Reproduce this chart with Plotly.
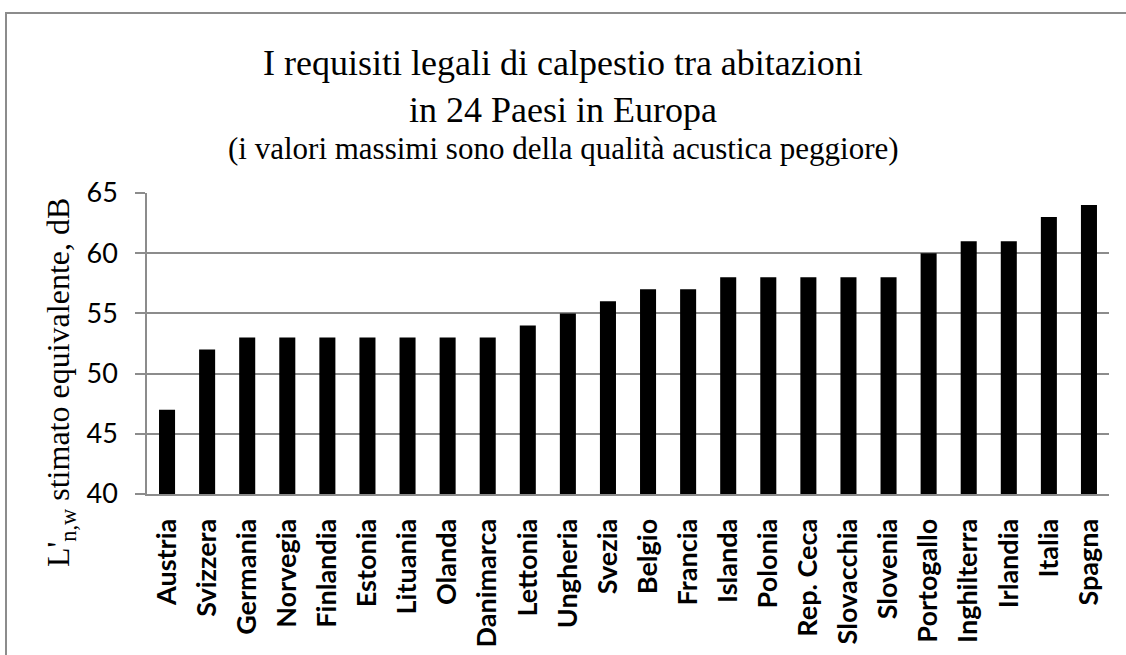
import plotly.graph_objects as go

countries = ["Austria", "Svizzera", "Germania", "Norvegia", "Finlandia", "Estonia",
             "Lituania", "Olanda", "Danimarca", "Lettonia", "Ungheria", "Svezia",
             "Belgio", "Francia", "Islanda", "Polonia", "Rep. Ceca", "Slovacchia",
             "Slovenia", "Portogallo", "Inghilterra", "Irlandia", "Italia", "Spagna"]
values = [47, 52, 53, 53, 53, 53, 53, 53, 53, 54, 55, 56, 57, 57, 58, 58, 58, 58, 58,
          60, 61, 61, 63, 64]
y_ticks = [40, 45, 50, 55, 60, 65]

title_lines = ["I requisiti legali di calpestio tra abitazioni",
               "in 24 Paesi in Europa",
               "(i valori massimi sono della qualità acustica peggiore)"]
y_title = "L'<sub>n,w</sub> stimato equivalente, dB"

serif = "Liberation Serif"
sans = "Lato"

fig = go.Figure()
fig.add_trace(go.Bar(x=countries, y=values, marker=dict(color="black", line=dict(width=0)),
                     width=0.4))

L, R, T, B = 147, 17, 193, 161
W, H = 1126, 655
pw, ph = W - L - R, H - T - B

def px_x(x):
    return (x - L) / pw

def px_y(y):
    return 1 + (T - y) / ph

fig.update_layout(
    width=W, height=H,
    margin=dict(l=L, r=R, t=T, b=B),
    paper_bgcolor="white", plot_bgcolor="white",
    showlegend=False,
    xaxis=dict(tickangle=-90, tickfont=dict(family=sans, size=27, color="black", weight="bold"),
               showline=True, linecolor="#8c8c8c", linewidth=2, showgrid=False,
               ticks="", ticklabelstandoff=12, range=[-0.5, 23.5], automargin=False),
    yaxis=dict(range=[40, 65], tickvals=y_ticks, tickfont=dict(family=sans, size=27, color="black"),
               showgrid=True, gridcolor="#8c8c8c", gridwidth=1.5,
               showline=True, linecolor="#8c8c8c", linewidth=1.5,
               ticks="outside", ticklen=10, tickcolor="#8c8c8c", tickwidth=1.5,
               ticklabelstandoff=12, automargin=False),
)

sizes = [36, 36, 31]
ys = [63, 110, 149]
for txt, s, yy in zip(title_lines, sizes, ys):
    fig.add_annotation(text=txt, xref="paper", yref="paper", x=px_x(563), y=px_y(yy),
                       showarrow=False, xanchor="center", yanchor="middle",
                       font=dict(family=serif, size=s, color="black"))

fig.add_annotation(text=y_title, xref="paper", yref="paper", x=px_x(60), y=px_y(383),
                   showarrow=False, xanchor="center", yanchor="middle", textangle=-90,
                   font=dict(family=serif, size=32, color="black"))

fig.add_shape(type="rect", xref="paper", yref="paper",
              x0=px_x(6), y0=px_y(665), x1=px_x(1140), y1=px_y(13),
              line=dict(color="#8c8c8c", width=2), fillcolor="rgba(0,0,0,0)", layer="below")

fig.write_html("out.html", config={"displayModeBar": False},
               post_script="document.body.style.margin='0';")
